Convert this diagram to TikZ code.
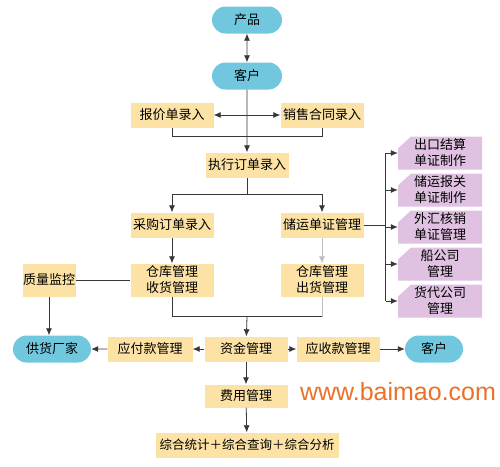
\documentclass[tikz,border=0pt]{standalone}
\usepackage{fontspec}
\newfontfamily\cjk{Noto Sans CJK SC}
\newfontfamily\latinsans{Liberation Sans}
\usepackage{tikz}
\usetikzlibrary{shapes.misc,arrows.meta}
\definecolor{pillblue}{RGB}{112,199,222}
\definecolor{boxtan}{RGB}{252,226,164}
\definecolor{boxpink}{RGB}{224,193,226}
\definecolor{linedark}{RGB}{55,55,55}
\definecolor{linelight}{RGB}{190,190,190}
\definecolor{webtext}{RGB}{236,112,40}

\begin{document}
\begin{tikzpicture}[x=1pt,y=-1pt,
    every node/.style={font=\cjk\fontsize{13}{16}\selectfont,inner sep=0pt,align=center},
    pill/.style={rounded rectangle,fill=pillblue,minimum height=27pt},
    tanbox/.style={rectangle,fill=boxtan,minimum width=83pt,minimum height=25pt},
    pinkbox/.style={rectangle,minimum width=84pt,minimum height=33pt,
        path picture={\fill[boxpink] (path picture bounding box.south west) -- (path picture bounding box.south east)
            -- (path picture bounding box.north east) -- ([xshift=13pt]path picture bounding box.north west)
            -- ([yshift=-12pt]path picture bounding box.north west) -- cycle;}},
    link/.style={draw=linedark,line width=0.8pt},
    lightlink/.style={draw=linelight,line width=0.8pt},
    arr/.style={link,-{Latex[length=7pt,width=6pt]}},
    arrboth/.style={link,{Latex[length=7pt,width=6pt]}-{Latex[length=7pt,width=6pt]}}]
    \useasboundingbox[fill=white] (0,0) rectangle (500,466);

    \node[pill,minimum width=70pt] (product) at (247,20) {产品};
    \node[pill,minimum width=70pt] (client) at (247,76) {客户};
    \node[tanbox] (quote) at (172,115) {报价单录入};
    \node[tanbox] (contract) at (322,115) {销售合同录入};
    \node[tanbox] (order) at (247,165) {执行订单录入};
    \node[tanbox] (purchase) at (172,225) {采购订单录入};
    \node[tanbox] (shipdoc) at (322,225) {储运单证管理};
    \node[tanbox,minimum height=33pt] (recv) at (172,280) {仓库管理\\收货管理};
    \node[tanbox,minimum height=33pt] (send) at (322,280) {仓库管理\\出货管理};
    \node[tanbox,minimum width=53pt,minimum height=33pt] (quality) at (49,280) {质量监控};
    \node[pill,minimum width=78pt] (supplier) at (52,349) {供货厂家};
    \node[tanbox,minimum width=85pt] (payable) at (150,349) {应付款管理};
    \node[tanbox] (funds) at (246,349) {资金管理};
    \node[tanbox] (receivable) at (338,349) {应收款管理};
    \node[pill,minimum width=58pt] (client2) at (434,349) {客户};
    \node[tanbox,minimum height=23pt] (expense) at (246,396) {费用管理};
    \node[tanbox,minimum width=183pt,font=\cjk\fontsize{12.5}{15}\selectfont] (summary) at (247,445) {综合统计＋综合查询＋综合分析};
    \foreach \name/\y/\txt in {settle/153/出口结算\\单证制作,customs/190/储运报关\\单证制作,forex/227/外汇核销\\单证管理,shipping/264/船公司\\管理,forwarder/301/货代公司\\管理}
        \node[pinkbox] (\name) at (440,\y) {\txt};
    \node[font=\latinsans\fontsize{25}{25}\selectfont,text=webtext] (site) at (398,392) {www.baimao.com};

    \draw[arrboth] (product) -- (client);
    \draw[arr] (client) -- (order);
    \draw[arrboth] (quote) -- (contract);
    \draw[link] (quote.south) -- ++(0,9) -| (contract.south);
    \draw[link] (order.south) -- ++(0,17) coordinate (split);
    \draw[arr] (split) -| (purchase);
    \draw[arr] (split) -| (shipdoc);
    \draw[link] (shipdoc.east) -- ++(22,0) coordinate (fork);
    \draw[link] (fork |- settle) -- (fork |- forwarder);
    \foreach \name in {settle,customs,forex,shipping,forwarder}
        \draw[arr] (fork |- \name) -- (\name);
    \draw[arr] (purchase) -- (recv);
    \draw[lightlink,-{Latex[length=7pt,width=6pt]}] (shipdoc) -- (send);
    \draw[link] (quality) -- (recv);
    \draw[arr] (quality.south) -- (quality.south |- supplier.north);
    \draw[link] (recv.south) -- ++(0,20) coordinate (merge) -- (merge -| send);
    \draw[lightlink] (merge -| send) -- (send.south);
    \draw[arr] (merge -| client) -- (funds);
    \draw[arr] (funds) -- (payable);
    \draw[arr] (payable) -- (supplier);
    \draw[arr] (funds) -- (receivable);
    \draw[arr] (receivable) -- (client2);
    \draw[arr] (funds) -- (expense);
    \draw[arr] (expense) -- (summary);
\end{tikzpicture}
\end{document}
